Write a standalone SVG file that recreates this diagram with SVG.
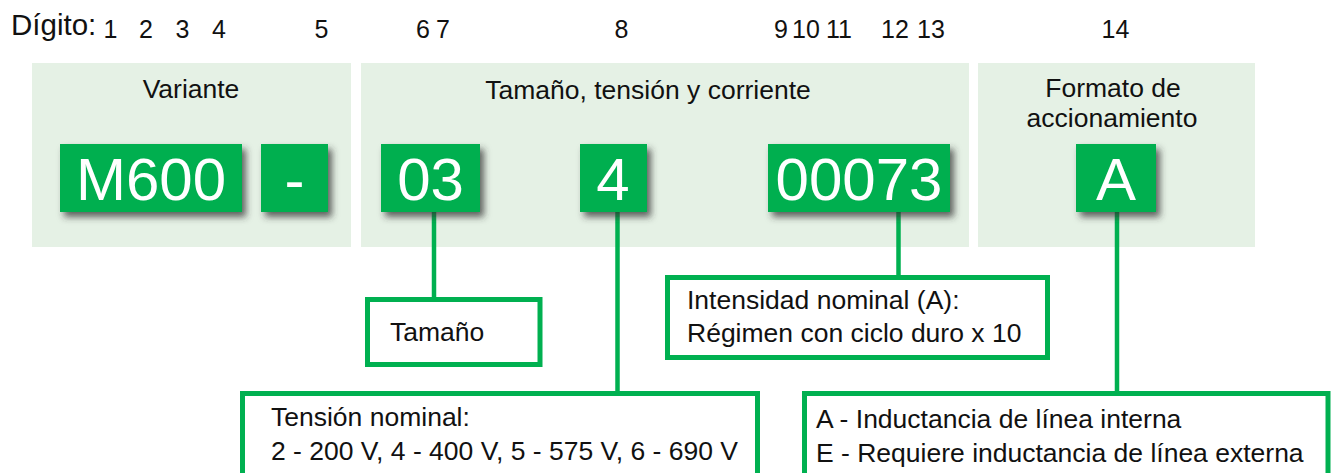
<svg xmlns="http://www.w3.org/2000/svg" width="1335" height="473" viewBox="0 0 1335 473">
<style>
  text { font-family: "Liberation Sans", Arial, sans-serif; fill: #111; }
  .dig { font-size: 25px; text-anchor: middle; }
  .lbl { font-size: 26.5px; text-anchor: middle; }
  .code { font-size: 60px; text-anchor: middle; fill: #fff; }
  .body { font-size: 26.5px; }
  .panel { fill: #E5F1E5; }
  .code-box { fill: #00AF50; filter: url(#shadow); }
  .out-box { fill: #fff; stroke: #00B050; stroke-width: 5; }
  .conn { stroke: #00B050; stroke-width: 4.5; fill: none; }
</style>
<defs>
  <filter id="shadow" x="-20%" y="-20%" width="150%" height="160%">
    <feDropShadow dx="4" dy="5" stdDeviation="3.5" flood-color="#333" flood-opacity="0.75"/>
  </filter>
</defs>
<rect width="1335" height="473" fill="#fff"/>

<g id="digits">
  <text x="11" y="35" style="font-size:29.5px">Dígito:</text>
  <text class="dig" x="110.5" y="38">1</text>
  <text class="dig" x="146" y="38">2</text>
  <text class="dig" x="182.5" y="38">3</text>
  <text class="dig" x="219" y="38">4</text>
  <text class="dig" x="321.5" y="38">5</text>
  <text class="dig" x="423" y="38">6</text>
  <text class="dig" x="443" y="38">7</text>
  <text class="dig" x="621.5" y="38">8</text>
  <text class="dig" x="781" y="38">9</text>
  <text class="dig" x="806" y="38">10</text>
  <text class="dig" x="839" y="38">11</text>
  <text class="dig" x="895" y="38">12</text>
  <text class="dig" x="931" y="38">13</text>
  <text class="dig" x="1115.5" y="38">14</text>
</g>

<g id="panel-variante">
  <rect class="panel" x="32" y="63" width="319" height="184"/>
  <text class="lbl" x="191" y="98">Variante</text>
</g>
<g id="panel-tamano">
  <rect class="panel" x="361" y="63" width="608" height="184"/>
  <text class="lbl" x="648" y="99">Tamaño, tensión y corriente</text>
</g>
<g id="panel-formato">
  <rect class="panel" x="978" y="63" width="277" height="184"/>
  <text class="lbl" x="1113" y="97">Formato de</text>
  <text class="lbl" x="1112" y="127">accionamiento</text>
</g>

<g id="connectors">
  <line class="conn" x1="434" y1="212" x2="434" y2="298"/>
  <line class="conn" x1="617.5" y1="212" x2="617.5" y2="392"/>
  <line class="conn" x1="898.5" y1="212" x2="898.5" y2="276"/>
  <line class="conn" x1="1117" y1="212" x2="1117" y2="392"/>
</g>

<g id="box-m600">
  <rect class="code-box" x="60" y="144" width="182" height="68"/>
  <text class="code" x="151" y="200">M600</text>
</g>
<g id="box-dash">
  <rect class="code-box" x="261" y="144" width="67" height="68"/>
  <text class="code" x="294.5" y="200">-</text>
</g>
<g id="box-03">
  <rect class="code-box" x="381" y="144" width="99" height="68"/>
  <text class="code" x="430.5" y="200">03</text>
</g>
<g id="box-4">
  <rect class="code-box" x="580" y="144" width="67" height="68"/>
  <text class="code" x="613" y="200">4</text>
</g>
<g id="box-00073">
  <rect class="code-box" x="768" y="144" width="182" height="68"/>
  <text class="code" x="859" y="200">00073</text>
</g>
<g id="box-a">
  <rect class="code-box" x="1076" y="144" width="80" height="68"/>
  <text class="code" x="1116" y="200">A</text>
</g>

<g id="desc-tamano">
  <rect class="out-box" x="367.5" y="299.5" width="172.5" height="65"/>
  <text class="body" x="390" y="341">Tamaño</text>
</g>
<g id="desc-intensidad">
  <rect class="out-box" x="667.5" y="277.5" width="380" height="80"/>
  <text class="body" x="687" y="309">Intensidad nominal (A):</text>
  <text class="body" x="687" y="342">Régimen con ciclo duro x 10</text>
</g>
<g id="desc-tension">
  <rect class="out-box" x="242.5" y="393.5" width="515" height="110"/>
  <text class="body" x="271" y="426">Tensión nominal:</text>
  <text class="body" x="271" y="460">2 - 200 V, 4 - 400 V, 5 - 575 V, 6 - 690 V</text>
</g>
<g id="desc-formato">
  <rect class="out-box" x="804.5" y="393.5" width="523.5" height="110"/>
  <text class="body" x="816" y="428">A - Inductancia de línea interna</text>
  <text class="body" x="816" y="462">E - Requiere inductancia de línea externa</text>
</g>
</svg>
